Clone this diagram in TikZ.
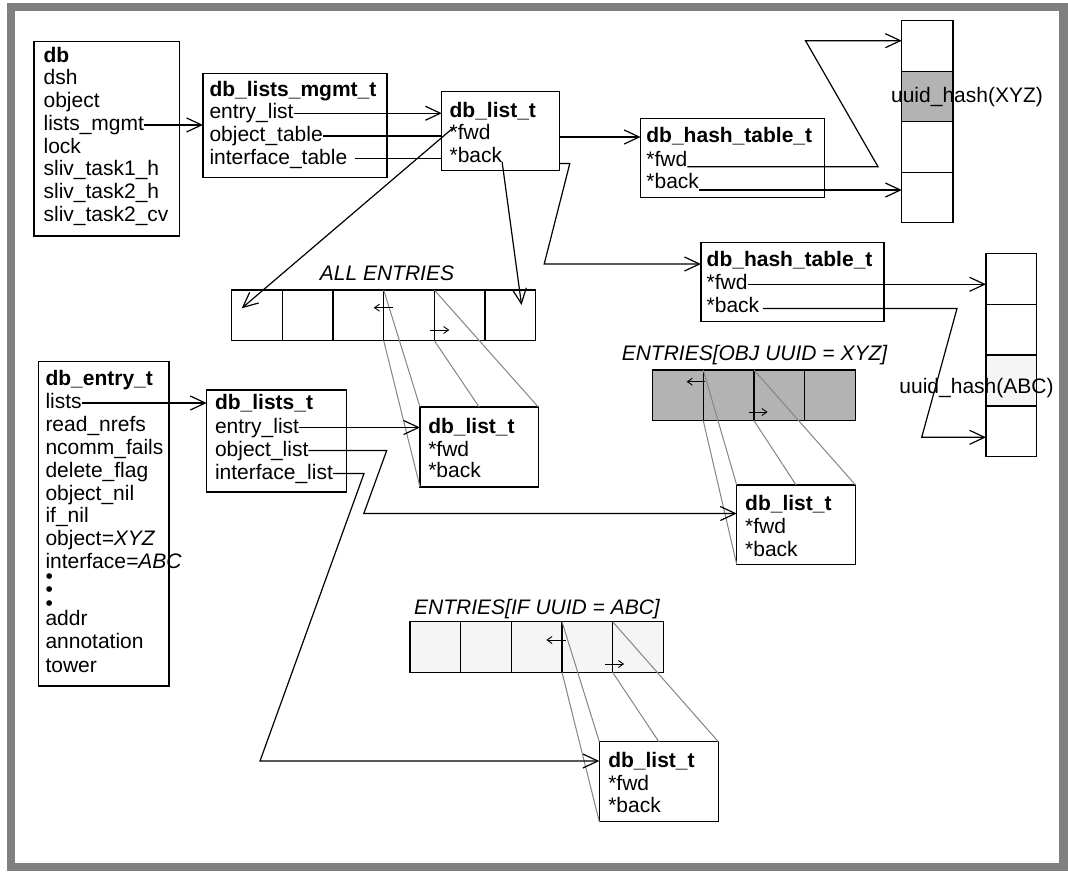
\documentclass[tikz,border=0pt]{standalone}
\usepackage{fontspec}
\setmainfont{Liberation Sans}
\usetikzlibrary{arrows.meta,calc}
\definecolor{framegray}{HTML}{808080}
\definecolor{midgray}{HTML}{B3B3B3}
\definecolor{palegray}{HTML}{F5F5F5}
\definecolor{linegray}{HTML}{858585}
\begin{document}
\begin{tikzpicture}[x=1pt,y=-1pt,
  every node/.style={inner sep=0pt, outer sep=0pt},
  txt/.style={anchor=west, text height=15pt, text depth=4pt, font=\fontsize{21}{23}\selectfont},
  bul/.style={anchor=west, text height=10pt, text depth=-3pt, font=\fontsize{21}{23}\selectfont},
  ttl/.style={txt, font=\fontsize{21}{23}\selectfont\bfseries},
  lbl/.style={font=\fontsize{21}{23}\selectfont\itshape},
  ctr/.style={font=\fontsize{21}{23}\selectfont},
  rec/.style={draw, line width=1.3pt, anchor=north west},
  cell/.style={draw, line width=1.3pt, anchor=north west, minimum width=50.6pt, minimum height=50.6pt},
  con/.style={line width=1.2pt},
  arr/.style={con, -{Straight Barb[length=15pt,width=14pt,line width=1.2pt]}},
  sarr/.style={line width=0.9pt, -{Straight Barb[length=5pt,width=7pt,line width=0.9pt]}},
  gl/.style={draw=linegray, line width=1pt},
]
\useasboundingbox (0,0) rectangle (1068,871);
\fill[framegray] (7,3) rectangle (1068,871);
\fill[white] (15,11) rectangle (1059,863);

% ---------- db ----------
\node[rec, minimum width=145.8pt, minimum height=194.3pt] (db) at (34,41.7) {};
\node[ttl] (db0) at (43.6,56.7) {db};
\node[txt] (db1) at (43.6,79.45) {dsh};
\node[txt] (db2) at (43.6,102.2) {object};
\node[txt] (db3) at (43.6,124.95) {lists\_mgmt};
\node[txt] (db4) at (43.6,147.7) {lock};
\node[txt] (db5) at (43.6,170.45) {sliv\_task1\_h};
\node[txt] (db6) at (43.6,193.2) {sliv\_task2\_h};
\node[txt] (db7) at (43.6,215.95) {sliv\_task2\_cv};

% ---------- db_lists_mgmt_t ----------
\node[rec, minimum width=184pt, minimum height=104pt] (mg) at (203,73.3) {};
\node[ttl] (mg0) at (209.5,90.5) {db\_lists\_mgmt\_t};
\node[txt] (mg1) at (209.5,113.25) {entry\_list};
\node[txt] (mg2) at (209.5,136) {object\_table};
\node[txt] (mg3) at (209.5,158.75) {interface\_table};

% ---------- db_list_t (top) ----------
\node[rec, minimum width=117.7pt, minimum height=79pt] (l1) at (441.8,91.7) {};
\node[ttl] (l1t) at (449.6,111.7) {db\_list\_t};
\node[txt] (l1f) at (449.6,134.3) {*fwd};
\node[txt] (l1b) at (449.6,157) {*back};

% ---------- db_hash_table_t (1) ----------
\node[rec, minimum width=183.6pt, minimum height=79pt] (h1) at (640.6,118.3) {};
\node[ttl] (h1t) at (646.4,137) {db\_hash\_table\_t};
\node[txt] (h1f) at (646.4,160.7) {*fwd};
\node[txt] (h1b) at (646.4,183) {*back};

% ---------- db_hash_table_t (2) ----------
\node[rec, minimum width=183.1pt, minimum height=79pt] (h2) at (700.9,242.7) {};
\node[ttl] (h2t) at (706.7,261) {db\_hash\_table\_t};
\node[txt] (h2f) at (706.7,284.3) {*fwd};
\node[txt] (h2b) at (706.7,307) {*back};

% ---------- hash columns ----------
\foreach \k in {1,...,4} \node[cell, minimum width=51.2pt, minimum height=50.5pt] (x\k) at (901.8,{20.7+(\k-1)*50.5}) {};
\node[cell, fill=midgray, minimum width=51.2pt, minimum height=50.5pt] at (901.8,71.2) {};
\foreach \k in {1,...,4} \node[cell, minimum width=50.7pt, minimum height=50.85pt] (c\k) at (986,{253.3+(\k-1)*50.85}) {};
\node[cell, fill=palegray, minimum width=50.7pt, minimum height=50.85pt] at (986,355) {};
\node[ctr] (ux) at (967,96.7) {uuid\_hash(XYZ)};
\node[ctr] (ua) at (976.5,388.3) {uuid\_hash(ABC)};

% ---------- arrays ----------
\node[lbl] (allL) at (387,273) {ALL ENTRIES};
\foreach \k in {1,...,6} \node[cell] (a\k) at ({231.7+(\k-1)*50.67},290) {};
\node[lbl] (objL) at (754.5,355.5) {ENTRIES[OBJ UUID = XYZ]};
\foreach \k in {1,...,4} \node[cell, fill=midgray, minimum width=50.75pt] (o\k) at ({652.5+(\k-1)*50.75},370) {};
\node[lbl] (ifL) at (537,609.5) {ENTRIES[IF UUID = ABC]};
\foreach \k in {1,...,5} \node[cell, fill=palegray] (i\k) at ({410+(\k-1)*50.67},621.7) {};

% ---------- db_list_t boxes ----------
\node[rec, minimum width=118.3pt, minimum height=80pt] (l2) at (420,407) {};
\node[ttl] (l2t) at (428.3,428.3) {db\_list\_t};
\node[txt] (l2f) at (428.3,450.7) {*fwd};
\node[txt] (l2b) at (428.3,472) {*back};

\node[rec, minimum width=118.8pt, minimum height=79.3pt] (l3) at (736.7,485) {};
\node[ttl] (l3t) at (745.2,505.3) {db\_list\_t};
\node[txt] (l3f) at (745.2,527.7) {*fwd};
\node[txt] (l3b) at (745.2,551) {*back};

\node[rec, minimum width=119pt, minimum height=80pt] (l4) at (599.3,741.7) {};
\node[ttl] (l4t) at (608.3,761.7) {db\_list\_t};
\node[txt] (l4f) at (608.3,785) {*fwd};
\node[txt] (l4b) at (608.3,806.7) {*back};

% ---------- db_entry_t ----------
\node[rec, minimum width=130.7pt, minimum height=324.3pt] (et) at (38.3,361.7) {};
\node[ttl] (e0) at (45.5,380) {db\_entry\_t};
\node[txt] (e1) at (45.5,403) {lists};
\node[txt] (e2) at (45.5,426) {read\_nrefs};
\node[txt] (e3) at (45.5,449) {ncomm\_fails};
\node[txt] (e4) at (45.5,472) {delete\_flag};
\node[txt] (e5) at (45.5,494.5) {object\_nil};
\node[txt] (e6) at (45.5,517) {if\_nil};
\node[txt] (e7) at (45.5,540) {object\textit{=XYZ}};
\node[txt] (e8) at (45.5,562.5) {interface\textit{=ABC}};
\node[bul] (e9) at (45.5,578) {•};
\node[bul] (e10) at (45.5,591.5) {•};
\node[bul] (e11) at (45.5,605) {•};
\node[txt] (e12) at (45.5,620) {addr};
\node[txt] (e13) at (45.5,643) {annotation};
\node[txt] (e14) at (45.5,666.5) {tower};

% ---------- db_lists_t ----------
\node[rec, minimum width=140pt, minimum height=102pt] (lt) at (206.7,390) {};
\node[ttl] (lt0) at (215,404) {db\_lists\_t};
\node[txt] (lt1) at (215,427.5) {entry\_list};
\node[txt] (lt2) at (215,450.5) {object\_list};
\node[txt] (lt3) at (215,473.5) {interface\_list};

% ---------- gray projection lines ----------
\draw[gl] (a4.north west) -- (l2.north west);
\draw[gl] (a4.south west) -- (l2.south west);
\draw[gl] (a4.north east) -- (l2.north east);
\draw[gl] (a4.south east) -- (l2.north);
\draw[gl] (o2.north west) -- (l3.north west);
\draw[gl] (o2.south west) -- (l3.south west);
\draw[gl] (o2.north east) -- (l3.north east);
\draw[gl] (o2.south east) -- (l3.north);
\draw[gl] (i4.north west) -- (l4.north west);
\draw[gl] (i4.south west) -- (l4.south west);
\draw[gl] (i4.north east) -- (l4.north east);
\draw[gl] (i4.south east) -- (l4.north);

% ---------- small arrows in arrays ----------
\draw[sarr] ($(a4.north west)+(9,17.7)$) -- ($(a4.north west)+(-10,17.7)$);
\draw[sarr] ($(a4.north east)+(-4.3,40)$) -- ($(a4.north east)+(15,40)$);
\draw[sarr] ($(o2.north west)+(1.5,11.7)$) -- ($(o2.north west)+(-16.6,11.7)$);
\draw[sarr] ($(o2.north east)+(-5.5,42)$) -- ($(o2.north east)+(13.6,42)$);
\draw[sarr] ($(i4.north west)+(3.5,18.3)$) -- ($(i4.north west)+(-15.7,18.3)$);
\draw[sarr] ($(i4.north east)+(-7.5,42.3)$) -- ($(i4.north east)+(11.5,42.3)$);

% ---------- connectors ----------
\draw[arr] (db3.east) -- (db3.east -| mg.west);
\draw[arr] (mg1.east) -- (mg1.east -| l1.west);
\draw[con] (mg2.east) -- (mg2.east -| l1.west);
\draw[con] ([xshift=8pt]mg3.east) -- (mg3.east -| l1.west);
\draw[arr] ($(l1f.west)+(3.4,-6.3)$) -- ($(a1.north west)+(10,18.3)$);
\draw[arr] ($(l1b.east)+(0,5)$) -- ($(a6.north west)+(36.5,15)$);
\draw[arr] (h1t.west -| l1.east) -- (h1t.west -| h1.west);
\draw[arr] ($(l1.south east)+(0,-7.2)$) -- (569.8,163.5) -- (544.2,264) -- (h2.west |- 0,264);
\draw[arr] ($(h1f.east)+(0,6)$) -- (878,166.7) -- (805.5,40.7) -- (x1.west |- 0,40.7);
\draw[arr] ($(h1b.east)+(0,7)$) -- (x4.west |- 0,190);
\draw[arr] (h2f.east) -- (h2f.east -| c1.west);
\draw[arr] ($(h2b.east)+(4,1.5)$) -- (957,308.5) -- (921.7,437.3) -- (c4.west |- 0,437.3);
\draw[arr] (e1.east) -- (e1.east -| lt.west);
\draw[arr] (lt1.east) -- (lt1.east -| l2.west);
\draw[arr] (lt2.east) -- (lt2.east -| 386.7,0) -- (363.8,513.5) -- (l3.west |- 0,513.5);
\draw[arr] (lt3.east) -- (lt3.east -| 364,0) -- (260,761) -- (l4.west |- 0,761);
\end{tikzpicture}
\end{document}
